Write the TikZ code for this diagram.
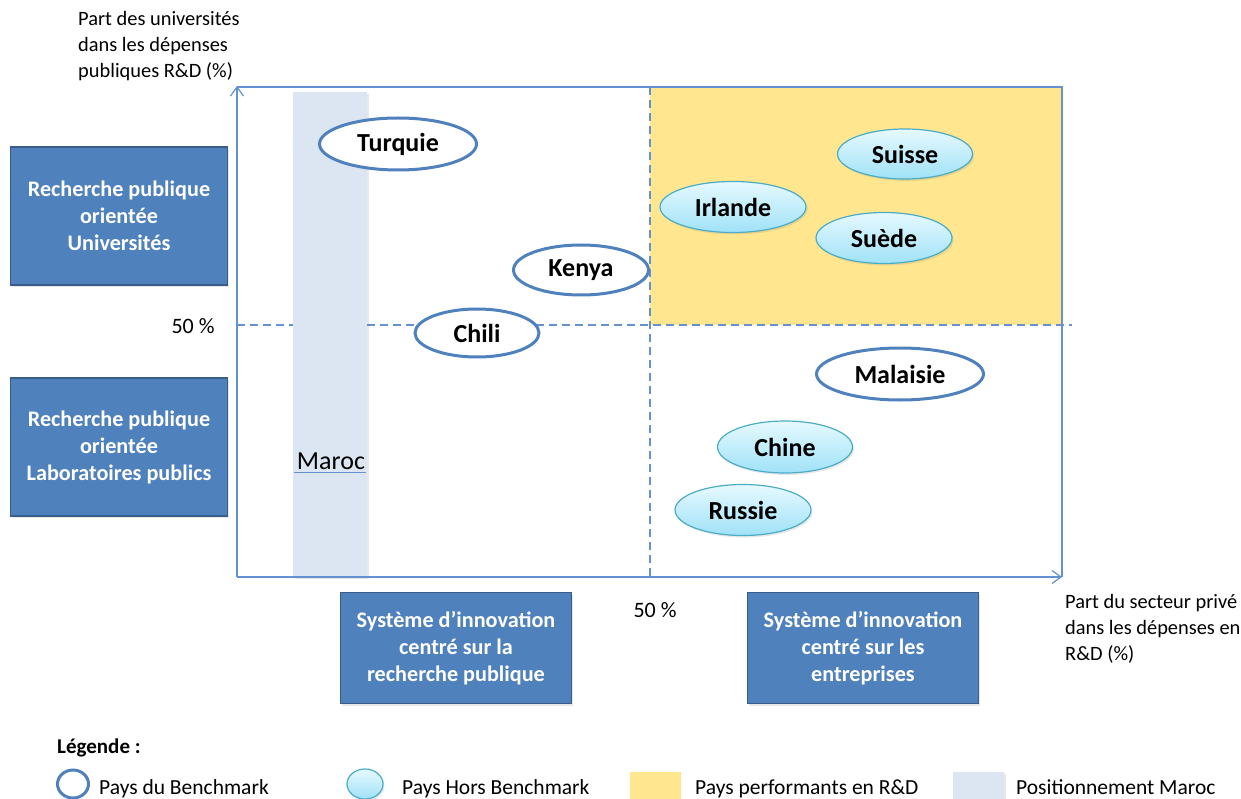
\documentclass[tikz,border=0pt]{standalone}
\usepackage{fontspec}
\setmainfont{Carlito}
\usetikzlibrary{shapes.geometric,arrows.meta,shadows}

\definecolor{axisblue}{RGB}{100,145,208}
\definecolor{boxfill}{RGB}{79,129,189}
\definecolor{boxline}{RGB}{56,93,138}
\definecolor{benchline}{RGB}{79,129,189}
\definecolor{cyanline}{RGB}{75,172,198}
\definecolor{cyantop}{RGB}{230,249,255}
\definecolor{cyanbot}{RGB}{160,226,247}
\definecolor{perfyellow}{RGB}{255,230,143}
\definecolor{marocfill}{RGB}{220,230,242}

\tikzset{
  axisline/.style={draw=axisblue, line width=1.2pt},
  guide/.style={draw=axisblue, line width=1.1pt, dash pattern=on 8pt off 5pt},
  tip/.style={-{Straight Barb[length=9pt,width=13pt,line width=1.2pt]}},
  softshadow/.style={drop shadow={opacity=0.18, shadow xshift=1.5pt, shadow yshift=-2pt}},
  catbox/.style={rectangle, fill=boxfill, draw=boxline, line width=1.5pt,
    text=white, font=\fontsize{22.2}{27}\selectfont\bfseries, align=center,
    inner sep=0pt, softshadow},
  bench/.style={ellipse, draw=benchline, line width=3pt, fill=white,
    font=\fontsize{26}{30}\selectfont\bfseries, inner sep=0pt},
  other/.style={ellipse, draw=cyanline, line width=1.2pt,
    top color=cyantop, bottom color=cyanbot,
    font=\fontsize{26}{30}\selectfont\bfseries, inner sep=0pt, softshadow},
  plain/.style={font=\fontsize{20.4}{26}\selectfont, inner sep=0pt, align=left},
  legtext/.style={font=\fontsize{21.5}{26}\selectfont, inner sep=0pt, anchor=base west},
}

\begin{document}
\begin{tikzpicture}[x=1pt, y=-1pt]
\useasboundingbox (0,0) rectangle (1241,799);

% quadrant of the R&D performers
\fill[perfyellow] (650,87) rectangle (1062,325);

% 50 % guides
\coordinate (gl) at (237,325);
\coordinate (gr) at (1072,325);
\coordinate (gt) at (650,87);
\coordinate (gb) at (650,577);
\draw[guide] (gl) -- (gr);
\draw[guide] (gt) -- (gb);

% positioning band of Morocco
\fill[marocfill, softshadow] (293,92) rectangle (367,577);
\node[font=\fontsize{26}{30}\selectfont, inner sep=0pt] (maroc) at (331,461) {Maroc};
\draw[axisblue, line width=1pt] (294,472) -- (366,472);

% axes and frame
\coordinate (O) at (237,577);
\coordinate (ytop) at (237,86);
\coordinate (xend) at (1062,577);
\coordinate (ftl) at (237,87);
\coordinate (ftr) at (1062,87);
\draw[axisline] (ftl) -- (ftr) -- (xend);
\draw[axisline, tip] (O) -- (ytop);
\draw[axisline, tip] (O) -- (xend);

% axis labels
\node[plain, anchor=west] (ylab) at (78,46) {Part des universités\\dans les dépenses\\publiques R\&D (\%)};
\node[plain, anchor=west] (xlab) at (1065,629) {Part du secteur privé\\dans les dépenses en\\R\&D (\%)};
\node[font=\fontsize{22}{26}\selectfont, inner sep=0pt] (ymid) at (193,326) {50 \%};
\node[font=\fontsize{22}{26}\selectfont, inner sep=0pt] (xmid) at (655,610) {50 \%};

% category boxes
\node[catbox, minimum width=217pt, minimum height=138pt] (univ) at (119,216)
  {Recherche publique\\orientée\\Universités};
\node[catbox, minimum width=217pt, minimum height=138pt] (labo) at (119,447)
  {Recherche publique\\orientée\\Laboratoires publics};
\node[catbox, minimum width=231pt, minimum height=111pt] (pub) at (456,648)
  {Système d’innovation\\centré sur la\\recherche publique};
\node[catbox, minimum width=231pt, minimum height=111pt] (entr) at (863,648)
  {Système d’innovation\\centré sur les\\entreprises};

% benchmark countries
\node[bench, minimum width=157pt, minimum height=52pt] (tur) at (398,144) {Turquie};
\node[bench, minimum width=135pt, minimum height=50pt] (ken) at (581,270) {Kenya};
\node[bench, minimum width=124pt, minimum height=48pt] (chi) at (477,333) {Chili};
\node[bench, minimum width=167pt, minimum height=52pt] (mal) at (900,374) {Malaisie};

% countries outside the benchmark
\node[other, minimum width=135pt, minimum height=50pt] (sui) at (905,154) {Suisse};
\node[other, minimum width=146pt, minimum height=51pt] (irl) at (733,207) {Irlande};
\node[other, minimum width=136pt, minimum height=51pt] (sue) at (884,238) {Suède};
\node[other, minimum width=135pt, minimum height=52pt] (chn) at (785,447) {Chine};
\node[other, minimum width=136pt, minimum height=51pt] (rus) at (743,510) {Russie};

% legend
\node[font=\fontsize{21}{24}\selectfont\bfseries, inner sep=0pt, anchor=west] (leg) at (57,748) {Légende :};
\node[ellipse, draw=benchline, line width=3pt, fill=white, minimum width=31pt, minimum height=28pt, inner sep=0pt] (lb) at (73,784) {};
\node[legtext] (lbt) at (99,794) {Pays du Benchmark};
\node[ellipse, draw=cyanline, line width=1.2pt, top color=cyantop, bottom color=cyanbot, minimum width=36pt, minimum height=30pt, inner sep=0pt, softshadow] (lo) at (365,784) {};
\node[legtext] (lot) at (402,794) {Pays Hors Benchmark};
\fill[perfyellow] (630,772) rectangle (681,799);
\node[legtext] (lpt) at (695,794) {Pays performants en R\&D};
\fill[marocfill, softshadow] (953,772) rectangle (1004,799);
\node[legtext] (lmt) at (1016,794) {Positionnement Maroc};
\end{tikzpicture}
\end{document}
